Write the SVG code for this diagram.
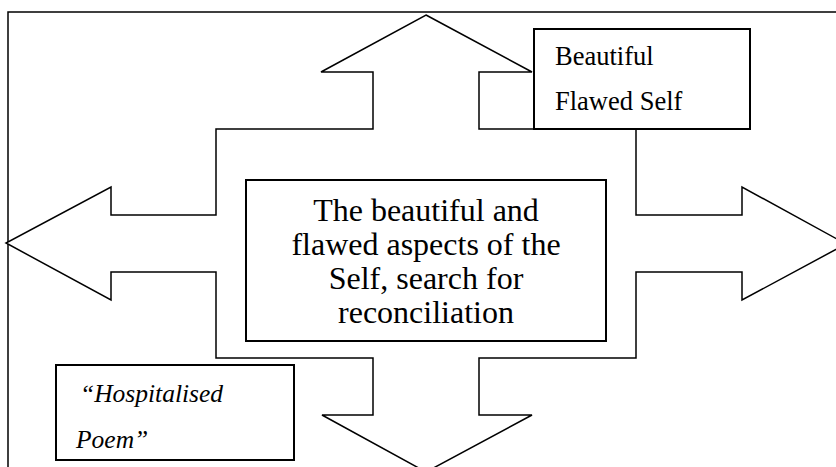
<svg xmlns="http://www.w3.org/2000/svg" width="836" height="467" viewBox="0 0 836 467">
  <style>
    .frame { fill: #ffffff; stroke: #000000; stroke-width: 1.5; }
    .cross { fill: #ffffff; stroke: #000000; stroke-width: 1.5; stroke-linejoin: miter; }
    .box { fill: #ffffff; stroke: #000000; stroke-width: 2; }
    .center { font-size: 32px; text-anchor: middle; }
    .side { font-size: 26.5px; }
    .ital { font-size: 25.5px; font-style: italic; }
  </style>

  <!-- outer frame, running off the right and bottom edges -->
  <rect class="frame" x="8" y="12" width="845" height="475"/>

  <!-- four-way arrow around the central statement -->
  <g id="connectors">
    <polygon class="cross" points="426,15 532,72 479,72 479,129 636,129 636,215 742,215 742,187 846,244 742,300 742,272 636,272 636,358 479,358 479,415 532,415 426,472 322,415 373,415 373,358 216,358 216,272 111,272 111,300 6,243 111,187 111,215 216,215 216,129 373,129 373,72 321,72"/>
  </g>

  <g id="center" font-family="'Liberation Serif', 'DejaVu Serif', serif" fill="#000000">
    <rect class="box" x="246" y="180" width="360" height="161"/>
    <text class="center" x="426" y="221">The beautiful and</text>
    <text class="center" x="426" y="255">flawed aspects of the</text>
    <text class="center" x="426" y="289">Self, search for</text>
    <text class="center" x="426" y="323">reconciliation</text>
  </g>

  <g id="beautiful-flawed-self" font-family="'Liberation Serif', 'DejaVu Serif', serif" fill="#000000">
    <rect class="box" x="534" y="29" width="216" height="100"/>
    <text class="side" x="555" y="65">Beautiful</text>
    <text class="side" x="555" y="110">Flawed Self</text>
  </g>

  <g id="hospitalised-poem" font-family="'Liberation Serif', 'DejaVu Serif', serif" fill="#000000">
    <rect class="box" x="56" y="365" width="238" height="95"/>
    <text class="ital" x="80" y="402">“Hospitalised</text>
    <text class="ital" x="76" y="448">Poem”</text>
  </g>
</svg>
